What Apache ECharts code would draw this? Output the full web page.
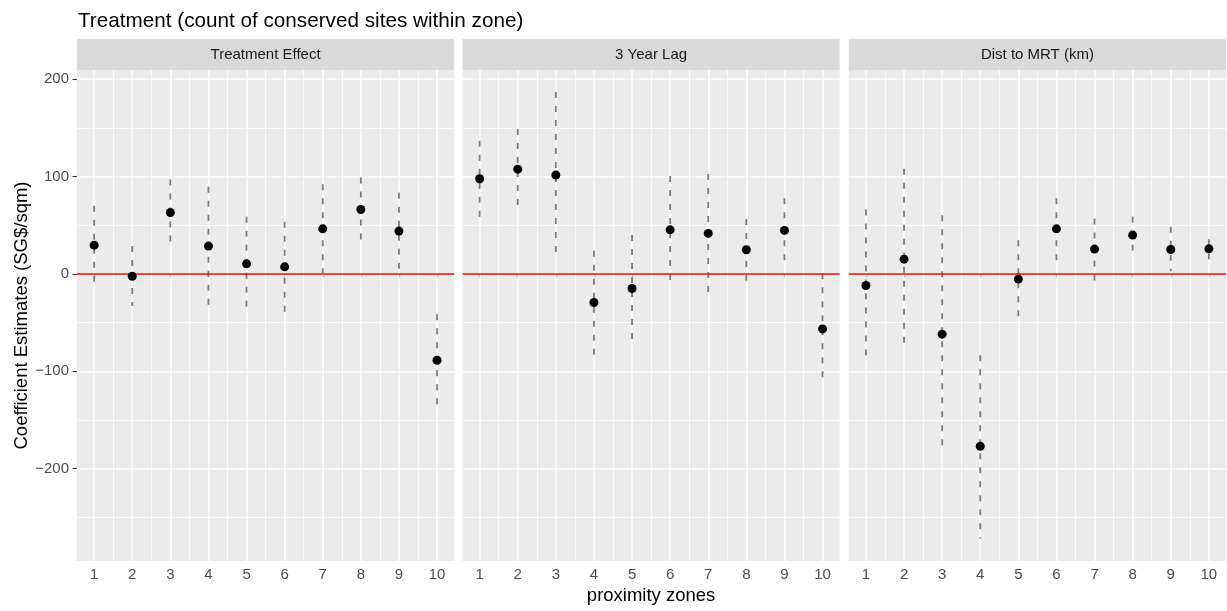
<!DOCTYPE html>
<html>
<head>
<meta charset="utf-8">
<title>Treatment (count of conserved sites within zone)</title>
<script src="https://cdn.jsdelivr.net/npm/echarts@6/dist/echarts.min.js"></script>
<style>
  html, body { margin: 0; padding: 0; background: #fff; }
  #chart { width: 1227px; height: 611px; }
</style>
</head>
<body>
<div id="chart"></div>
<script>
// data
const zones = [1, 2, 3, 4, 5, 6, 7, 8, 9, 10];
const panelNames = ["Treatment Effect", "3 Year Lag", "Dist to MRT (km)"];

const effectEst = [29.5, -2.4, 63, 28.5, 10.3, 7.2, 46.2, 66.1, 43.9, -88.7];
const effectLo = [-11.6, -33, 28.5, -33, -39.7, -39.7, 1, 32.9, 4, -135.6];
const effectHi = [69.9, 28.5, 97, 89.4, 58.6, 53.4, 92.1, 99, 83.2, -41.4];

const lagEst = [97.6, 107.5, 101.4, -29.4, -15, 45.2, 41.5, 24.7, 44.6, -56.5];
const lagLo = [52.8, 65.4, 15.8, -88.7, -69.1, -9.9, -19.1, -7.2, 12.3, -112];
const lagHi = [136.6, 148.6, 186.6, 23.6, 39.8, 100.4, 102.4, 56.2, 77.5, 0.5];

const mrtEst = [-11.9, 15.1, -61.9, -177, -5.4, 46.2, 25.4, 39.8, 25, 25.7];
const mrtLo = [-92, -77.7, -183.9, -271.8, -48.6, 9.3, -9.9, 21.6, 2.6, 13.4];
const mrtHi = [66.1, 107.9, 60.3, -83.5, 34.6, 77.5, 56.9, 58.6, 48.3, 35.6];

const yTicks = [-200, -100, 0, 100, 200];
const yMinor = [-250, -150, -50, 50, 150];
const xMinor = [1.5, 2.5, 3.5, 4.5, 5.5, 6.5, 7.5, 8.5, 9.5];

const panels = [
  [effectEst, effectLo, effectHi],
  [lagEst, lagLo, lagHi],
  [mrtEst, mrtLo, mrtHi],
];

const chart = echarts.init(document.getElementById("chart"));
const font = "'Liberation Sans', Arial, Helvetica, sans-serif";

// panel layout (ggplot facet_wrap look)
const lefts = [77, 462.5, 848.8];
const pw = 377.2;
const gridTop = 70;
const gridBottom = 50;

const grids = [];
const xAxes = [];
const yAxes = [];
const series = [];
const graphics = [];

const minorStyle = { color: "#fff", width: 0.8, type: "solid" };
const majorStyle = { color: "#fff", width: 1.5, type: "solid" };

lefts.forEach((l, i) => {
  grids.push({
    left: l, width: pw, top: gridTop, bottom: gridBottom,
    show: true, backgroundColor: "#ebebeb", borderWidth: 0,
  });
  xAxes.push({
    gridIndex: i, type: "value", min: 0.55, max: 10.45,
    axisLine: { show: false },
    splitLine: { show: false },
    axisTick: { show: true, customValues: zones, length: 4, lineStyle: { color: "#333", width: 1.1 } },
    axisLabel: { customValues: zones, color: "#4d4d4d", fontSize: 15, fontFamily: font, margin: 6 },
    name: i === 1 ? "proximity zones" : "",
    nameLocation: "middle", nameGap: 25,
    nameTextStyle: { color: "#000", fontSize: 18.5, fontFamily: font },
  });
  yAxes.push({
    gridIndex: i, type: "value", min: -294.8, max: 209.3,
    axisLine: { show: false },
    splitLine: { show: false },
    axisTick: { show: i === 0, customValues: yTicks, length: 4.5, lineStyle: { color: "#333", width: 1.1 } },
    axisLabel: {
      show: i === 0, customValues: yTicks, color: "#4d4d4d", fontSize: 15, fontFamily: font, margin: 8,
      formatter: (v) => String(v).replace("-", "\u2212"),
    },
    name: i === 0 ? "Coefficient Estimates (SG$/sqm)" : "",
    nameLocation: "middle", nameGap: 46, nameRotate: 90,
    nameTextStyle: { color: "#000", fontSize: 18.5, fontFamily: font },
  });

  // background grid lines
  const lines = [];
  yMinor.forEach((v) => lines.push({ yAxis: v, lineStyle: minorStyle }));
  xMinor.forEach((v) => lines.push({ xAxis: v, lineStyle: minorStyle }));
  yTicks.forEach((v) => lines.push({ yAxis: v, lineStyle: majorStyle }));
  zones.forEach((v) => lines.push({ xAxis: v, lineStyle: majorStyle }));
  series.push({
    type: "scatter", xAxisIndex: i, yAxisIndex: i, data: [], z: 1, silent: true,
    markLine: {
      z: 1, symbol: "none", silent: true, label: { show: false }, animation: false,
      lineStyle: { type: "solid" }, emphasis: { disabled: true }, data: lines,
    },
  });

  const [est, lo, hi] = panels[i];

  // dashed confidence bars
  series.push({
    type: "custom", xAxisIndex: i, yAxisIndex: i, z: 2, silent: true,
    data: zones.map((z, k) => [z, lo[k], hi[k]]),
    renderItem: (params, api) => {
      const a = api.coord([api.value(0), api.value(2)]);
      const b = api.coord([api.value(0), api.value(1)]);
      return {
        type: "line",
        shape: { x1: a[0], y1: a[1], x2: b[0], y2: b[1] },
        style: { stroke: "#7a7a7a", lineWidth: 1.8, lineDash: [6, 8] },
      };
    },
  });

  // red zero line
  series.push({
    type: "scatter", xAxisIndex: i, yAxisIndex: i, data: [], z: 3, silent: true,
    markLine: {
      z: 3, symbol: "none", silent: true, label: { show: false }, animation: false,
      emphasis: { disabled: true },
      data: [{ yAxis: 0 }], lineStyle: { color: "#ff0000", width: 1.6, type: "solid" },
    },
  });

  // point estimates
  series.push({
    type: "scatter", xAxisIndex: i, yAxisIndex: i, z: 4,
    symbol: "circle", symbolSize: 9,
    itemStyle: { color: "#000", opacity: 1 },
    data: zones.map((z, k) => [z, est[k]]),
  });

  // facet strip
  graphics.push({
    type: "rect", shape: { x: l, y: 39, width: pw, height: 31 },
    style: { fill: "#d9d9d9" }, silent: true,
  });
  graphics.push({
    type: "text", x: l + pw / 2, y: 55,
    style: {
      text: panelNames[i], fill: "#1a1a1a", fontSize: 15, fontFamily: font,
      align: "center", verticalAlign: "middle",
    },
  });
});

chart.setOption({
  animation: false,
  title: {
    text: "Treatment (count of conserved sites within zone)",
    left: 73, top: 6,
    textStyle: { color: "#000", fontSize: 20.7, fontWeight: "normal", fontFamily: font },
  },
  grid: grids,
  xAxis: xAxes,
  yAxis: yAxes,
  series: series,
  graphic: graphics,
});
</script>
</body>
</html>
